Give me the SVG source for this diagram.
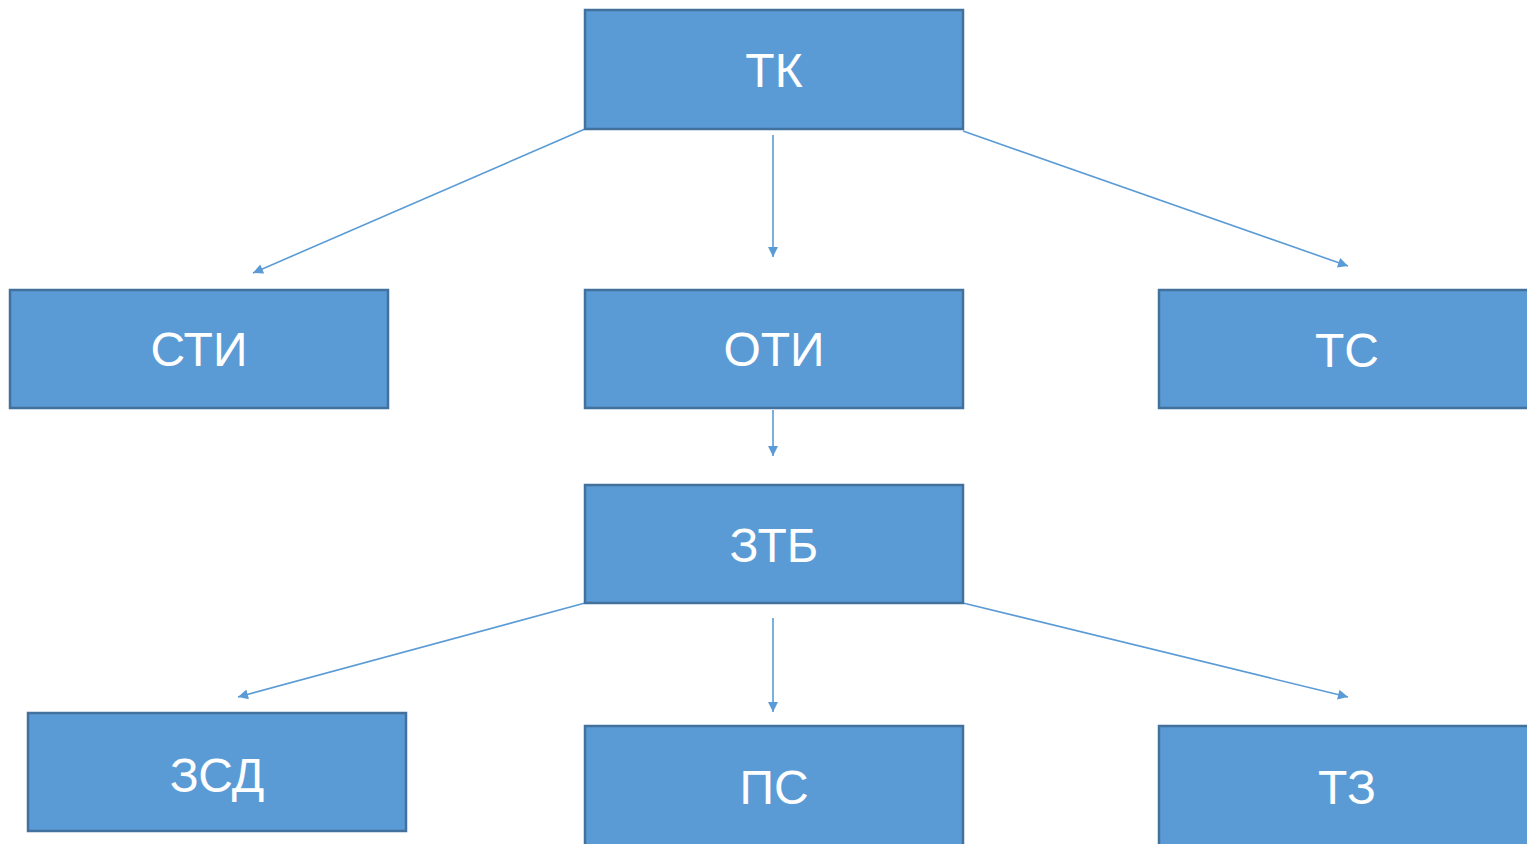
<svg xmlns="http://www.w3.org/2000/svg" width="1527" height="844" viewBox="0 0 1527 844">
<style>
.box{fill:#5B9BD5;stroke:#41719C;stroke-width:2.5}
.lbl{fill:#FFFFFF;font-family:"Liberation Sans",Arial,sans-serif;font-size:48px;text-anchor:middle}
.edge{stroke:#5B9BD5;stroke-width:1.6;fill:none;marker-end:url(#ah)}
</style>
<defs>
<marker id="ah" viewBox="0 0 10 10" refX="10" refY="5" markerWidth="13" markerHeight="10" markerUnits="userSpaceOnUse" orient="auto">
<path d="M0,0 L10,5 L0,10 Z" fill="#5B9BD5"/>
</marker>
</defs>
<rect width="1527" height="844" fill="#FFFFFF"/>
<g id="connectors">
<line class="edge" x1="585" y1="129" x2="253" y2="273"/>
<line class="edge" x1="773" y1="135" x2="773" y2="257"/>
<line class="edge" x1="963" y1="131" x2="1348" y2="266"/>
<line class="edge" x1="773" y1="410" x2="773" y2="456"/>
<line class="edge" x1="585" y1="603" x2="238" y2="697"/>
<line class="edge" x1="773" y1="618" x2="773" y2="712"/>
<line class="edge" x1="963" y1="603" x2="1348" y2="697"/>
</g>
<g id="tk"><rect class="box" x="585" y="10" width="378" height="119"/><text class="lbl" x="774" y="87">ТК</text></g>
<g id="sti"><rect class="box" x="10" y="290" width="378" height="118"/><text class="lbl" x="199" y="366">СТИ</text></g>
<g id="oti"><rect class="box" x="585" y="290" width="378" height="118"/><text class="lbl" x="774" y="366">ОТИ</text></g>
<g id="ts"><rect class="box" x="1159" y="290" width="378" height="118"/><text class="lbl" x="1347" y="367">ТС</text></g>
<g id="ztb"><rect class="box" x="585" y="485" width="378" height="118"/><text class="lbl" x="774" y="562">ЗТБ</text></g>
<g id="zsd"><rect class="box" x="28" y="713" width="378" height="118"/><text class="lbl" x="217" y="792">ЗСД</text></g>
<g id="ps"><rect class="box" x="585" y="726" width="378" height="130"/><text class="lbl" x="774" y="804">ПС</text></g>
<g id="tz"><rect class="box" x="1159" y="726" width="378" height="130"/><text class="lbl" x="1347" y="804">ТЗ</text></g>
</svg>
